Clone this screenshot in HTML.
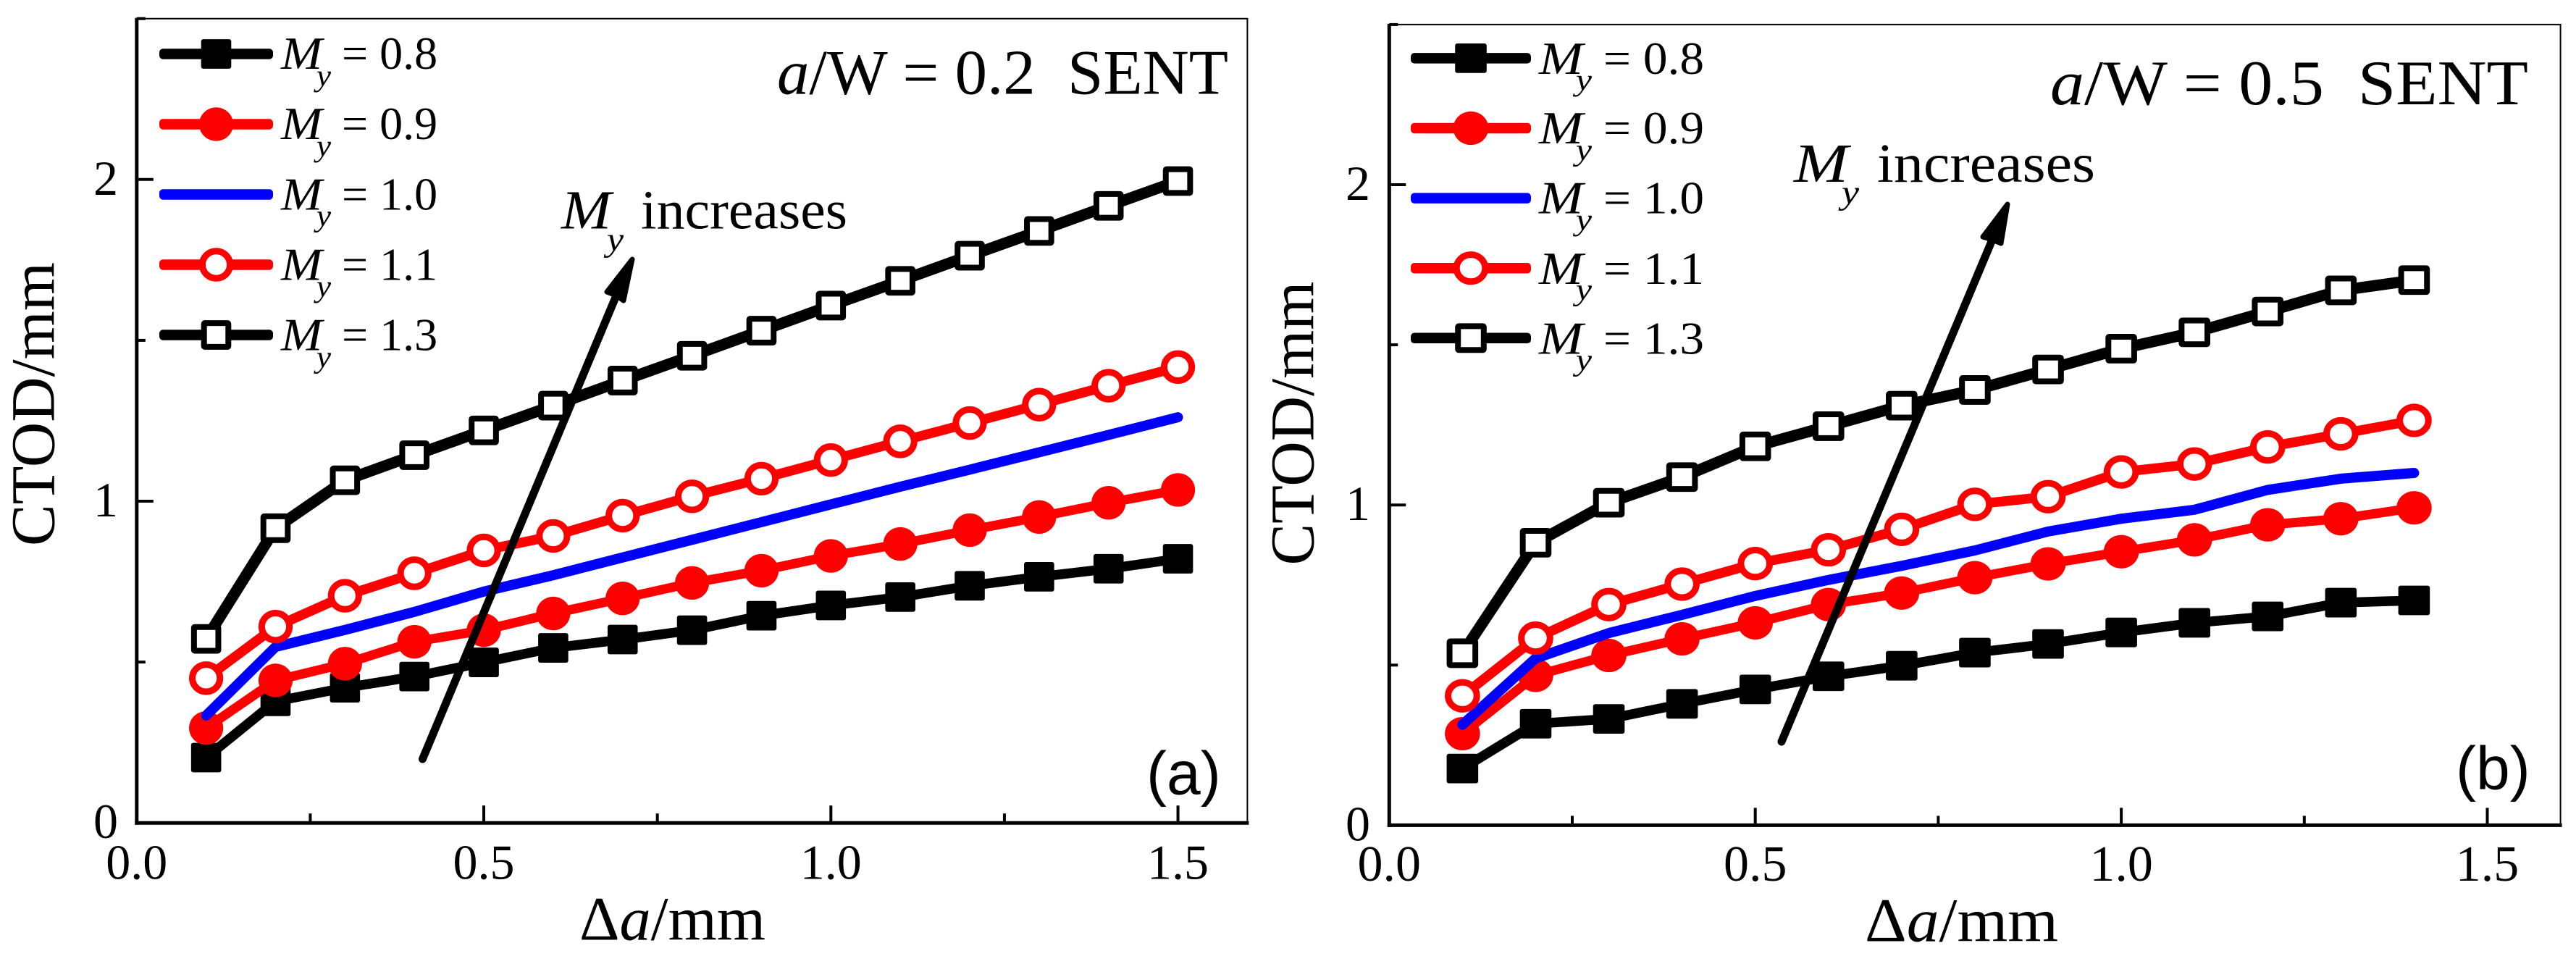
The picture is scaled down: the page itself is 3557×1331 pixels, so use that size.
<!DOCTYPE html>
<html lang="en">
<head>
<meta charset="utf-8">
<title>CTOD versus crack growth for a/W = 0.2 and a/W = 0.5 SENT</title>
<style>
  html, body { margin: 0; padding: 0; background: #ffffff; }
  svg { display: block; }
  text { font-family: "Liberation Serif", serif; fill: #000000; }
  .it { font-style: italic; }
  .lg { font-size: 64px; }
  .sub { font-size: 42px; font-style: italic; }
  .ann { font-size: 76px; }
  .tag { font-family: "Liberation Sans", sans-serif; font-size: 84px; }
  .ttl { font-size: 88px; }
  .axt { font-size: 86px; }
</style>
</head>
<body>
<svg id="fig" xmlns="http://www.w3.org/2000/svg" width="3557" height="1331" viewBox="0 0 3557 1331">
  <rect x="0" y="0" width="3557" height="1331" fill="#ffffff"/>
  <g id="panelA"></g>
  <g id="panelB"></g>

  <!-- Panel A static text -->
  <text class="axt" transform="translate(74.5,754) rotate(-90)" textLength="392" lengthAdjust="spacingAndGlyphs">CTOD/mm</text>
  <text class="axt" x="800" y="1297.5" textLength="257" lengthAdjust="spacingAndGlyphs">Δ<tspan class="it">a</tspan>/mm</text>
  <text class="ttl" x="1073" y="129.5" textLength="623" lengthAdjust="spacingAndGlyphs"><tspan class="it">a</tspan>/W = 0.2&#160;&#160;SENT</text>
  <text class="tag" x="1583" y="1096.5">(a)</text>
  <g>
    <text class="ann it" x="775" y="315.7" textLength="69" lengthAdjust="spacingAndGlyphs">M</text>
    <text class="it" style="font-size:47px" x="838" y="346" textLength="23" lengthAdjust="spacingAndGlyphs">y</text>
    <text class="ann" x="885" y="315.7" textLength="285" lengthAdjust="spacingAndGlyphs">increases</text>
  </g>
  <g>
    <text class="lg it" x="388" y="94.8" textLength="57" lengthAdjust="spacingAndGlyphs">M</text><text class="sub" x="437" y="118.5" textLength="20" lengthAdjust="spacingAndGlyphs">y</text><text class="lg" x="472" y="94.8">= 0.8</text>
    <text class="lg it" x="388" y="192" textLength="57" lengthAdjust="spacingAndGlyphs">M</text><text class="sub" x="437" y="215.5" textLength="20" lengthAdjust="spacingAndGlyphs">y</text><text class="lg" x="472" y="192">= 0.9</text>
    <text class="lg it" x="388" y="289.3" textLength="57" lengthAdjust="spacingAndGlyphs">M</text><text class="sub" x="437" y="312" textLength="20" lengthAdjust="spacingAndGlyphs">y</text><text class="lg" x="472" y="289.3">= 1.0</text>
    <text class="lg it" x="388" y="386.6" textLength="57" lengthAdjust="spacingAndGlyphs">M</text><text class="sub" x="437" y="409.5" textLength="20" lengthAdjust="spacingAndGlyphs">y</text><text class="lg" x="472" y="386.6">= 1.1</text>
    <text class="lg it" x="388" y="483.6" textLength="57" lengthAdjust="spacingAndGlyphs">M</text><text class="sub" x="437" y="507" textLength="20" lengthAdjust="spacingAndGlyphs">y</text><text class="lg" x="472" y="483.6">= 1.3</text>
  </g>

  <!-- Panel B static text -->
  <text class="axt" transform="translate(1813.5,780.5) rotate(-90)" textLength="392" lengthAdjust="spacingAndGlyphs">CTOD/mm</text>
  <text class="axt" x="2575" y="1299.5" textLength="267" lengthAdjust="spacingAndGlyphs">Δ<tspan class="it">a</tspan>/mm</text>
  <text class="ttl" x="2831" y="143.8" textLength="660" lengthAdjust="spacingAndGlyphs"><tspan class="it">a</tspan>/W = 0.5&#160;&#160;SENT</text>
  <text class="tag" x="3391" y="1089.5">(b)</text>
  <g>
    <text class="ann it" x="2477" y="251" textLength="75" lengthAdjust="spacingAndGlyphs">M</text>
    <text class="it" style="font-size:47px" x="2543" y="281" textLength="24" lengthAdjust="spacingAndGlyphs">y</text>
    <text class="ann" x="2592" y="251" textLength="301" lengthAdjust="spacingAndGlyphs">increases</text>
  </g>
  <g>
    <text class="lg it" x="2125" y="101.8" textLength="61" lengthAdjust="spacingAndGlyphs">M</text><text class="sub" x="2176" y="124.4" textLength="22" lengthAdjust="spacingAndGlyphs">y</text><text class="lg" x="2214" y="101.8" textLength="139" lengthAdjust="spacingAndGlyphs">= 0.8</text>
    <text class="lg it" x="2125" y="198.2" textLength="61" lengthAdjust="spacingAndGlyphs">M</text><text class="sub" x="2176" y="221" textLength="22" lengthAdjust="spacingAndGlyphs">y</text><text class="lg" x="2214" y="198.2" textLength="139" lengthAdjust="spacingAndGlyphs">= 0.9</text>
    <text class="lg it" x="2125" y="294.6" textLength="61" lengthAdjust="spacingAndGlyphs">M</text><text class="sub" x="2176" y="317.6" textLength="22" lengthAdjust="spacingAndGlyphs">y</text><text class="lg" x="2214" y="294.6" textLength="139" lengthAdjust="spacingAndGlyphs">= 1.0</text>
    <text class="lg it" x="2125" y="392" textLength="61" lengthAdjust="spacingAndGlyphs">M</text><text class="sub" x="2176" y="414.2" textLength="22" lengthAdjust="spacingAndGlyphs">y</text><text class="lg" x="2214" y="392" textLength="139" lengthAdjust="spacingAndGlyphs">= 1.1</text>
    <text class="lg it" x="2125" y="488.4" textLength="61" lengthAdjust="spacingAndGlyphs">M</text><text class="sub" x="2176" y="510.8" textLength="22" lengthAdjust="spacingAndGlyphs">y</text><text class="lg" x="2214" y="488.4" textLength="139" lengthAdjust="spacingAndGlyphs">= 1.3</text>
  </g>
</svg>

<script>
// ---------- data ----------
const crackGrowthA = [0.1,0.2,0.3,0.4,0.5,0.6,0.7,0.8,0.9,1.0,1.1,1.2,1.3,1.4,1.5];
const crackGrowthB = [0.1,0.2,0.3,0.4,0.5,0.6,0.7,0.8,0.9,1.0,1.1,1.2,1.3,1.4];

const ctodA08 = [0.203,0.378,0.420,0.455,0.499,0.544,0.570,0.599,0.644,0.676,0.702,0.737,0.765,0.790,0.821];
const ctodA09 = [0.295,0.443,0.495,0.563,0.599,0.651,0.698,0.746,0.784,0.830,0.867,0.910,0.951,0.995,1.035];
const ctodA10 = [0.334,0.547,0.600,0.656,0.719,0.770,0.825,0.880,0.935,0.990,1.045,1.098,1.152,1.206,1.261];
const ctodA11 = [0.450,0.610,0.706,0.776,0.847,0.892,0.955,1.015,1.070,1.128,1.186,1.243,1.300,1.359,1.417];
const ctodA13 = [0.572,0.916,1.065,1.143,1.220,1.297,1.375,1.452,1.530,1.608,1.685,1.763,1.840,1.918,1.995];

const ctodB08 = [0.177,0.317,0.332,0.379,0.424,0.465,0.498,0.539,0.566,0.602,0.632,0.652,0.695,0.702];
const ctodB09 = [0.286,0.468,0.530,0.582,0.632,0.689,0.725,0.773,0.816,0.854,0.891,0.938,0.957,0.991];
const ctodB10 = [0.314,0.521,0.600,0.657,0.716,0.766,0.810,0.858,0.917,0.957,0.985,1.047,1.082,1.100];
const ctodB11 = [0.404,0.584,0.689,0.753,0.817,0.860,0.924,1.002,1.026,1.103,1.128,1.181,1.222,1.264];
const ctodB13 = [0.537,0.882,1.007,1.087,1.183,1.246,1.310,1.359,1.423,1.488,1.539,1.604,1.670,1.702];

const xMajorTicks = [0, 0.5, 1.0, 1.5];
const xMajorLabels = ['0.0', '0.5', '1.0', '1.5'];
const xMinorTicks = [0.25, 0.75, 1.25];
const yMajorTicks = [0, 1, 2];
const yMajorLabels = ['0', '1', '2'];
const yMinorTicks = [0.5, 1.5, 2.5];
const seriesNames = ['my-0-8', 'my-0-9', 'my-1-0', 'my-1-1', 'my-1-3'];

// ---------- drawing ----------
const SVGNS = 'http://www.w3.org/2000/svg';
function make(tag, parent, attrs) {
  const el = document.createElementNS(SVGNS, tag);
  for (const k in attrs) el.setAttribute(k, attrs[k]);
  parent.appendChild(el);
  return el;
}
const looks = [
  { color: '#000000', width: 13.5, marker: 'solid-square' },
  { color: '#ff0000', width: 13,   marker: 'solid-circle' },
  { color: '#0000ff', width: 14,   marker: 'none' },
  { color: '#ff0000', width: 13.5, marker: 'open-circle' },
  { color: '#000000', width: 15.5, marker: 'open-square' }
];

function drawMarker(parent, kind, color, cx, cy, p) {
  let m = null;
  if (kind === 'solid-square') {
    m = make('rect', parent, { x: cx - p.sqX, y: cy - p.sqY, width: 2 * p.sqX, height: 2 * p.sqY, rx: 3, fill: color });
  } else if (kind === 'open-square') {
    m = make('rect', parent, { x: cx - p.sqX + 4, y: cy - p.sqY + 4, width: 2 * p.sqX - 8, height: 2 * p.sqY - 8, rx: 1, fill: '#ffffff', stroke: color, 'stroke-width': 8 });
  } else if (kind === 'solid-circle') {
    m = make('ellipse', parent, { cx: cx, cy: cy, rx: p.cX, ry: p.cY, fill: color });
  } else if (kind === 'open-circle') {
    m = make('ellipse', parent, { cx: cx, cy: cy, rx: p.cX - 4.5, ry: p.cY - 4.5, fill: '#ffffff', stroke: color, 'stroke-width': 9 });
  }
  if (m) {
    
    
  }
}

function drawPanel(host, p, xs, allSeries) {
  const xPos = v => p.x0 + v * p.xUnit;
  const yPos = v => p.y0 - v * p.yUnit;
  const xEnd = xPos(1.6), yTop = yPos(2.5);

  // frame
  const frameTop = make('line', host, { x1: p.x0, y1: yTop, x2: xEnd + 1, y2: yTop, stroke: '#000', 'stroke-width': 2 });
  
  
  const frameRight = make('line', host, { x1: xEnd, y1: yTop, x2: xEnd, y2: p.y0, stroke: '#000', 'stroke-width': 2 });
  
  
  const axisLeft = make('line', host, { x1: p.x0, y1: yTop - 1, x2: p.x0, y2: p.y0 + 2.5, stroke: '#000', 'stroke-width': 5 });
  
  
  const axisBottom = make('line', host, { x1: p.x0 - 2.5, y1: p.y0, x2: xEnd + 2, y2: p.y0, stroke: '#000', 'stroke-width': 5 });
  
  

  // x ticks
  xMajorTicks.forEach((v, i) => {
    const t = make('line', host, { x1: xPos(v), y1: p.y0, x2: xPos(v), y2: p.y0 - 24, stroke: '#000', 'stroke-width': 4 });
    
    
    const lab = make('text', host, { x: xPos(v) + p.xLabelShift, y: p.xLabelY, 'text-anchor': 'middle', style: 'font-size:' + p.xLabelSize + 'px' });
    lab.textContent = xMajorLabels[i];
    
    
  });
  xMinorTicks.forEach(v => {
    const t = make('line', host, { x1: xPos(v), y1: p.y0, x2: xPos(v), y2: p.y0 - 13, stroke: '#000', 'stroke-width': 4 });
    
    
  });

  // y ticks
  yMajorTicks.forEach((v, i) => {
    const t = make('line', host, { x1: p.x0, y1: yPos(v), x2: p.x0 + 23, y2: yPos(v), stroke: '#000', 'stroke-width': 4 });
    
    
    const lab = make('text', host, { x: p.yLabelX, y: yPos(v) + 21, 'text-anchor': 'end', style: 'font-size:68px' });
    lab.textContent = yMajorLabels[i];
    
    
  });
  yMinorTicks.forEach(v => {
    const t = make('line', host, { x1: p.x0, y1: yPos(v), x2: p.x0 + 12, y2: yPos(v), stroke: '#000', 'stroke-width': 4 });
    
    
  });

  // series
  allSeries.forEach((vals, s) => {
    const look = looks[s];
    const g = make('g', host, {});
    
    
    const pts = vals.map((v, i) => xPos(xs[i]).toFixed(1) + ',' + yPos(v).toFixed(1)).join(' ');
    const line = make('polyline', g, { points: pts, fill: 'none', stroke: look.color, 'stroke-width': look.width, 'stroke-linejoin': 'round', 'stroke-linecap': 'round' });
    
    
    vals.forEach((v, i) => drawMarker(g, look.marker, look.color, xPos(xs[i]), yPos(v), p));
  });

  // legend symbols
  looks.forEach((look, s) => {
    const cy = p.legendY + s * p.legendGap;
    const g = make('g', host, {});
    
    
    make('rect', g, { x: p.legendX1, y: cy - 7.25, width: p.legendX2 - p.legendX1, height: 14.5, rx: 5, fill: look.color });
    drawMarker(g, look.marker, look.color, (p.legendX1 + p.legendX2) / 2, cy, p);
  });

  // trend arrow
  const arrow = make('g', host, {});
  
  
  make('line', arrow, { x1: p.arrow[0], y1: p.arrow[1], x2: p.arrow[8], y2: p.arrow[9], stroke: '#000', 'stroke-width': 11, 'stroke-linecap': 'round' });
  make('polygon', arrow, { points: p.arrow[2] + ',' + p.arrow[3] + ' ' + p.arrow[4] + ',' + p.arrow[5] + ' ' + p.arrow[8] + ',' + p.arrow[9] + ' ' + p.arrow[6] + ',' + p.arrow[7], fill: '#000', stroke: '#000', 'stroke-width': 7, 'stroke-linejoin': 'round' });
}

const layoutA = {
  x0: 188.8, y0: 1136.2, xUnit: 958.5, yUnit: 444.2,
  sqX: 20.8, sqY: 20.4, cX: 23.6, cY: 23.2,
  xLabelY: 1213.5, xLabelSize: 68, xLabelShift: 0, yLabelX: 163,
  legendX1: 220, legendX2: 377, legendY: 74.5, legendGap: 97,
  arrow: [583.5, 1048, 873, 358, 838, 403, 861, 415, 851, 408]
};
const layoutB = {
  x0: 1918.3, y0: 1139.4, xUnit: 1010.8, yUnit: 442.2,
  sqX: 21.8, sqY: 20.4, cX: 24.3, cY: 23.1,
  xLabelY: 1216, xLabelSize: 70, xLabelShift: 0, yLabelX: 1892,
  legendX1: 1948, legendX2: 2114, legendY: 80.4, legendGap: 96.6,
  arrow: [2460, 1024, 2772, 282, 2738, 327, 2763, 336, 2751, 331]
};

drawPanel(document.getElementById('panelA'), layoutA, crackGrowthA, [ctodA08, ctodA09, ctodA10, ctodA11, ctodA13]);
drawPanel(document.getElementById('panelB'), layoutB, crackGrowthB, [ctodB08, ctodB09, ctodB10, ctodB11, ctodB13]);
</script>
</body>
</html>
